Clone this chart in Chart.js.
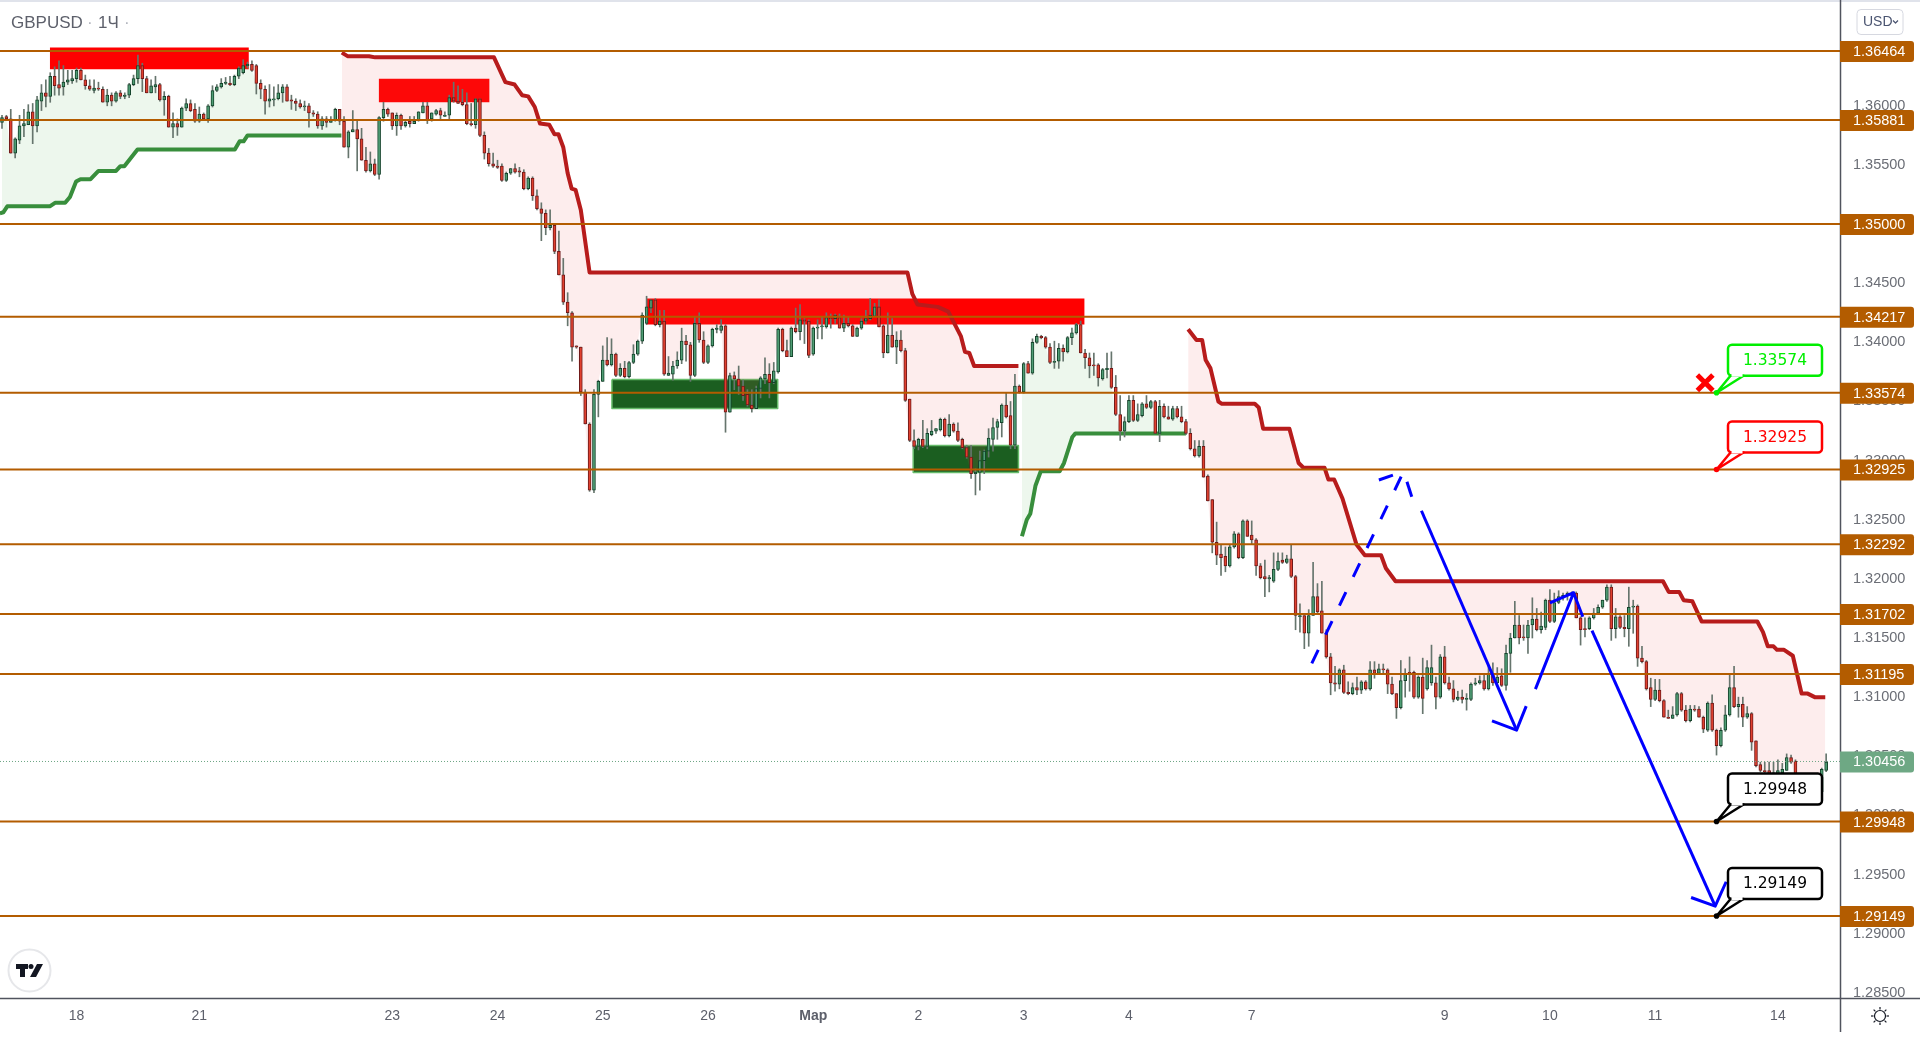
<!DOCTYPE html>
<html>
<head>
<meta charset="utf-8">
<title>GBPUSD</title>
<script src="https://cdn.jsdelivr.net/npm/chart.js@4"></script>
<style>
html, body { margin: 0; padding: 0; background: #fff; }
canvas { display: block; }
</style>
</head>
<body>
<canvas id="chart" width="1920" height="1044"></canvas>
<script>
// candle values in 1/10000 above 1.0000
const opens = [
3586,3591,3589,3560,3571,3583,3584,3595,3583,3604,
3611,3608,3625,3618,3616,3620,3621,3623,3630,3622,
3617,3613,3615,3614,3603,3609,3604,3611,3608,3609,
3618,3623,3634,3623,3611,3616,3618,3605,3608,3582,
3585,3582,3598,3602,3597,3587,3593,3589,3600,3613,
3616,3619,3619,3618,3625,3628,3634,3635,3634,3619,
3614,3604,3605,3606,3611,3616,3605,3604,3602,3599,
3600,3594,3593,3583,3589,3586,3588,3597,3587,3565,
3578,3580,3572,3554,3545,3551,3542,3590,3597,3594,
3583,3592,3583,3587,3585,3588,3594,3600,3589,3593,
3596,3591,3592,3607,3604,3603,3601,3585,3584,3606,
3575,3560,3551,3549,3549,3537,3543,3547,3545,3544,
3530,3539,3524,3513,3509,3497,3499,3477,3457,3434,
3425,3397,3396,3358,3331,3275,3356,3367,3385,3381,
3390,3372,3378,3371,3383,3390,3401,3416,3429,3436,
3415,3418,3372,3373,3380,3385,3401,3398,3372,3416,
3402,3383,3397,3411,3410,3414,3341,3372,3369,3363,
3356,3347,3344,3361,3369,3373,3366,3375,3411,3393,
3388,3412,3409,3419,3418,3390,3412,3413,3413,3421,
3420,3421,3412,3416,3414,3405,3412,3418,3420,3422,
3430,3414,3391,3406,3396,3402,3393,3352,3317,3312,
3318,3312,3322,3325,3326,3335,3321,3331,3325,3318,
3311,3303,3289,3290,3300,3308,3318,3328,3332,3347,
3338,3313,3363,3358,3382,3374,3400,3405,3404,3396,
3383,3384,3395,3392,3404,3408,3415,3391,3387,3381,
3381,3369,3377,3378,3362,3339,3325,3333,3351,3334,
3338,3348,3345,3350,3323,3346,3337,3335,3344,3337,
3333,3323,3310,3304,3312,3287,3267,3231,3221,3219,
3211,3227,3238,3218,3249,3237,3233,3211,3202,3200,
3198,3208,3216,3214,3217,3202,3168,3169,3154,3169,
3185,3173,3154,3134,3112,3111,3123,3104,3103,3108,
3106,3113,3107,3123,3120,3124,3123,3111,3103,3091,
3114,3121,3121,3100,3117,3107,3112,3112,3100,3134,
3112,3107,3098,3100,3098,3098,3111,3112,3114,3107,
3120,3112,3118,3110,3137,3150,3161,3151,3150,3161,
3166,3157,3159,3182,3164,3180,3184,3186,3186,3188,
3167,3158,3158,3167,3171,3176,3182,3193,3158,3168,
3159,3158,3176,3177,3133,3130,3108,3098,3106,3097,
3083,3082,3085,3103,3089,3080,3090,3090,3083,3072,
3095,3072,3059,3072,3085,3108,3092,3094,3083,3086,
3063,3043,3038,3038,3035,3035,3036,3038,3049,3046,
3030,3015,3013,3023,3021,3020,3038];
const closes = [
3590,3589,3560,3572,3583,3585,3595,3583,3605,3611,
3608,3625,3617,3615,3620,3622,3623,3630,3622,3617,
3614,3615,3614,3603,3609,3604,3611,3608,3609,3618,
3623,3634,3623,3611,3617,3618,3605,3608,3582,3585,
3582,3598,3602,3596,3587,3593,3589,3600,3613,3616,
3619,3620,3618,3625,3632,3634,3635,3630,3619,3614,
3604,3606,3606,3611,3616,3604,3604,3602,3599,3600,
3594,3593,3583,3589,3586,3587,3597,3587,3565,3578,
3580,3572,3554,3545,3551,3542,3590,3597,3593,3583,
3592,3583,3586,3585,3587,3595,3600,3588,3594,3596,
3592,3592,3607,3604,3602,3601,3585,3584,3606,3575,
3560,3551,3549,3548,3537,3543,3547,3544,3544,3530,
3539,3524,3513,3509,3497,3499,3477,3457,3434,3425,
3396,3396,3358,3331,3275,3356,3367,3385,3381,3390,
3372,3378,3371,3383,3390,3401,3423,3430,3436,3415,
3418,3373,3374,3380,3385,3401,3398,3372,3416,3402,
3383,3397,3411,3412,3414,3341,3372,3369,3363,3355,
3347,3344,3361,3370,3373,3366,3376,3411,3393,3388,
3412,3409,3419,3418,3389,3412,3413,3414,3421,3420,
3423,3412,3416,3414,3405,3412,3418,3420,3423,3430,
3413,3391,3406,3396,3402,3393,3351,3317,3312,3318,
3312,3323,3325,3327,3335,3321,3331,3325,3317,3311,
3303,3289,3290,3300,3308,3319,3328,3333,3347,3337,
3313,3363,3358,3382,3374,3400,3405,3404,3396,3383,
3384,3395,3392,3404,3408,3415,3391,3387,3380,3380,
3370,3377,3378,3362,3339,3325,3333,3351,3334,3339,
3348,3345,3350,3323,3346,3337,3335,3344,3337,3333,
3323,3310,3304,3312,3286,3266,3231,3220,3218,3211,
3227,3238,3218,3249,3236,3233,3211,3201,3200,3201,
3208,3215,3214,3217,3202,3169,3169,3154,3169,3185,
3172,3154,3134,3112,3111,3123,3104,3103,3108,3106,
3113,3107,3123,3120,3124,3123,3111,3103,3091,3114,
3120,3120,3100,3117,3099,3125,3125,3100,3134,3112,
3107,3098,3100,3098,3099,3111,3112,3114,3107,3120,
3112,3117,3110,3137,3150,3161,3150,3150,3161,3166,
3157,3160,3182,3164,3180,3185,3186,3188,3187,3167,
3157,3157,3167,3171,3176,3182,3193,3158,3168,3159,
3158,3176,3177,3133,3130,3107,3098,3106,3097,3083,
3082,3085,3103,3089,3080,3090,3089,3083,3073,3095,
3072,3059,3072,3085,3108,3092,3094,3083,3086,3062,
3042,3038,3037,3034,3036,3038,3039,3049,3045,3030,
3013,3013,3023,3017,3018,3039,3045];
const highs = [
3592,3592,3597,3573,3592,3597,3601,3602,3608,3618,
3622,3628,3633,3638,3634,3630,3630,3632,3632,3626,
3622,3622,3620,3616,3614,3611,3612,3613,3611,3619,
3626,3643,3636,3625,3622,3625,3619,3612,3609,3594,
3589,3599,3606,3605,3602,3599,3594,3601,3617,3618,
3623,3624,3625,3626,3633,3639,3637,3638,3635,3622,
3617,3618,3616,3618,3618,3618,3609,3606,3605,3604,
3602,3596,3595,3591,3591,3591,3598,3597,3591,3579,
3596,3587,3581,3565,3561,3555,3591,3603,3598,3594,
3594,3593,3588,3591,3591,3595,3603,3603,3594,3597,
3598,3595,3609,3620,3617,3614,3611,3602,3606,3606,
3578,3564,3560,3554,3551,3544,3547,3551,3548,3546,
3540,3540,3529,3518,3512,3512,3500,3494,3471,3442,
3426,3397,3396,3360,3332,3360,3368,3397,3404,3403,
3391,3382,3384,3384,3398,3402,3425,3439,3436,3437,
3427,3427,3388,3384,3392,3412,3406,3400,3422,3425,
3409,3398,3412,3415,3419,3415,3374,3375,3380,3368,
3360,3360,3363,3371,3387,3382,3383,3412,3412,3402,
3413,3429,3432,3420,3419,3413,3419,3422,3425,3424,
3424,3424,3423,3422,3415,3413,3420,3427,3437,3433,
3436,3415,3425,3420,3409,3410,3395,3352,3326,3319,
3334,3327,3334,3327,3336,3336,3339,3332,3332,3319,
3313,3313,3293,3308,3309,3327,3336,3335,3348,3357,
3350,3373,3364,3383,3384,3403,3407,3406,3405,3399,
3401,3399,3398,3405,3412,3416,3418,3394,3391,3391,
3382,3378,3391,3392,3372,3355,3337,3355,3355,3348,
3349,3355,3351,3351,3351,3348,3346,3346,3346,3346,
3335,3327,3317,3317,3317,3288,3267,3248,3229,3227,
3229,3240,3239,3250,3250,3249,3234,3213,3216,3203,
3222,3222,3222,3220,3229,3203,3179,3169,3174,3214,
3196,3198,3157,3137,3126,3124,3127,3113,3112,3117,
3114,3114,3130,3130,3128,3128,3124,3117,3103,3131,
3124,3134,3122,3118,3133,3131,3144,3117,3136,3143,
3117,3114,3105,3106,3103,3112,3116,3118,3119,3127,
3129,3125,3124,3144,3154,3181,3169,3161,3165,3184,
3175,3172,3183,3191,3188,3190,3188,3189,3189,3189,
3168,3167,3168,3175,3178,3182,3195,3195,3175,3169,
3169,3193,3182,3178,3143,3131,3116,3115,3115,3098,
3089,3092,3104,3104,3093,3093,3093,3092,3084,3096,
3102,3073,3074,3093,3120,3126,3100,3100,3092,3087,
3063,3045,3045,3045,3045,3047,3044,3052,3051,3047,
3030,3023,3024,3024,3023,3040,3052];
const lows = [
3581,3588,3560,3556,3568,3574,3584,3568,3578,3596,
3599,3603,3609,3609,3609,3618,3619,3620,3622,3614,
3613,3611,3613,3603,3600,3600,3603,3606,3606,3607,
3617,3619,3612,3611,3611,3611,3604,3592,3582,3573,
3575,3582,3596,3595,3586,3586,3589,3586,3599,3612,
3615,3618,3617,3617,3623,3627,3632,3629,3610,3606,
3593,3599,3600,3605,3603,3604,3597,3596,3598,3596,
3582,3591,3581,3580,3582,3586,3587,3584,3565,3556,
3578,3545,3554,3544,3544,3541,3538,3587,3591,3580,
3575,3580,3582,3582,3585,3587,3594,3585,3587,3592,
3589,3591,3589,3603,3602,3600,3584,3583,3581,3574,
3555,3549,3548,3547,3536,3536,3542,3543,3540,3529,
3529,3520,3512,3486,3491,3495,3475,3457,3432,3414,
3384,3395,3355,3331,3274,3273,3337,3367,3380,3380,
3371,3371,3370,3370,3382,3389,3399,3415,3425,3414,
3413,3372,3372,3368,3378,3382,3384,3367,3371,3400,
3382,3382,3396,3408,3408,3324,3341,3360,3356,3351,
3346,3341,3344,3353,3365,3353,3365,3374,3392,3388,
3388,3408,3402,3399,3387,3389,3403,3403,3412,3412,
3416,3412,3409,3413,3405,3405,3411,3416,3419,3422,
3413,3387,3391,3396,3382,3392,3350,3316,3310,3309,
3311,3310,3321,3323,3325,3320,3320,3324,3316,3310,
3302,3285,3271,3275,3289,3303,3308,3318,3320,3336,
3310,3310,3357,3357,3374,3373,3399,3403,3395,3382,
3378,3378,3384,3391,3398,3407,3391,3378,3370,3372,
3363,3368,3370,3361,3338,3317,3320,3332,3333,3333,
3337,3344,3344,3323,3316,3336,3335,3334,3336,3332,
3322,3309,3303,3303,3286,3266,3222,3212,3203,3206,
3210,3226,3217,3217,3236,3229,3203,3200,3185,3189,
3197,3207,3213,3213,3201,3157,3155,3141,3143,3169,
3171,3154,3133,3102,3105,3107,3103,3102,3102,3102,
3103,3106,3106,3116,3119,3119,3103,3102,3082,3090,
3100,3105,3099,3099,3086,3106,3110,3090,3099,3111,
3106,3096,3097,3095,3089,3097,3110,3111,3106,3106,
3110,3111,3109,3106,3121,3150,3145,3148,3137,3150,
3156,3154,3157,3163,3163,3179,3182,3182,3183,3167,
3144,3151,3157,3166,3170,3175,3181,3148,3150,3158,
3151,3143,3154,3126,3129,3106,3092,3097,3096,3083,
3082,3082,3084,3088,3079,3079,3088,3083,3070,3071,
3071,3051,3058,3071,3084,3091,3083,3075,3082,3055,
3041,3037,3036,3033,3034,3034,3035,3038,3044,3028,
3012,3011,3012,3016,3013,3019,3037];

// trailing stop segments, [bar, price] corners
const greenTrail1 = [[-0.5,3509],[0.3,3510],[1.2,3515],[10.9,3515],[12.1,3518],[14.4,3518],[15.5,3523],[16.9,3536],[17.9,3538],[20.2,3538],[22,3545],[26,3545],[27,3549],[27.9,3549],[30.9,3563],[53.1,3563],[54.2,3570],[55.1,3570],[56,3575],[77.4,3575]];
const redTrail1 = [[77.5,3645],[78.8,3642],[83.7,3642],[85.1,3641],[112.2,3641],[114.8,3620],[116.9,3618],[118.6,3609],[120,3608],[121.5,3599],[122.7,3585],[124.8,3584],[126,3576],[126.9,3576],[128,3565],[129,3543],[129.9,3530],[130.8,3529],[132,3512],[134,3459],[206.5,3459],[207.6,3441],[208.8,3432],[213.4,3430],[215.8,3426],[218.7,3405],[219.6,3392],[220.6,3391],[221.7,3380],[231.8,3380]];
const greenTrail2 = [[232.6,3236],[233.7,3250],[234.5,3255],[235.7,3279],[236.9,3291],[241.2,3291],[242.2,3298],[244.1,3320],[244.8,3323],[270,3323]];
const redTrail2 = [[270.5,3411],[272.4,3402],[273.7,3402],[274.5,3385],[275.6,3378],[277.4,3350],[278.2,3348],[285.7,3348],[286.6,3345],[287.6,3327],[293.6,3327],[295.7,3298],[296.8,3294],[301.6,3294],[302.5,3284],[303.8,3284],[305.7,3268],[308.9,3229],[310.8,3220],[314.5,3220],[315.6,3209],[317.8,3198],[378.8,3198],[380.1,3189],[382.5,3189],[383.5,3182],[385.5,3181],[387.6,3164],[400.3,3164],[401.6,3155],[402.7,3143],[404,3143],[404.8,3140],[406.4,3140],[408.4,3135],[410.4,3103],[411.8,3103],[413.4,3100],[415.8,3100]];

// zones: from bar, to bar, top, bottom
const redZones = [[10.9,56.3,3649.4,3631],[85.9,111.2,3622.8,3603],[146.9,246.9,3437,3415]];
const greenZones = [[139.1,176.9,3368.5,3344],[207.8,231.8,3312.7,3290]];

const levelPrices = [1.36464,1.35881,1.35,1.34217,1.33574,1.32925,1.32292,1.31702,1.31195,1.29948,1.29149];
const lastPrice = 1.30456;

// hand drawn arrows
const bluePathDashed = [[298.7,3128.5],[319.7,3291.2]];
const bluePathsSolid = [
  [[314,3283.6],[317.2,3287.8]],
  [[320.4,3282.2],[321.5,3269.5]],
  [[323.7,3257.6],[345.4,3072.1]],
  [[339.8,3080],[345.4,3072.1],[347.6,3092.4]],
  [[349.7,3106.8],[358.4,3188.3],[360.5,3168]],
  [[353,3179.8],[358.4,3188.3]],
  [[362.6,3156.2],[390.7,2923.3]],
  [[385.2,2930.6],[390.7,2923.3],[393.2,2943.9]]
];
const crossMark = [388.4,3365.9];

const calloutPrices = [1.33574,1.32925,1.29948,1.29149];
const calloutColors = ['#00ee00','#ff0000','#000000','#000000'];
const calloutBar = 391;

const yTicks = [1.285,1.29,1.295,1.3,1.305,1.31,1.315,1.32,1.325,1.33,1.335,1.34,1.345,1.35,1.355,1.36];
const xTickBars = [17,45,89,113,137,161,185,209,233,257,285,329,353,377,405];
const xTickLabels = ['18','21','23','24','25','26','Мар','2','3','4','7','9','10','11','14'];

const price = v => 1 + v / 10000;
const points = list => list.map(p => ({ x: p[0], y: price(p[1]) }));

const isUp = closes.map((c, i) => c >= opens[i]);
const xMin = -0.456, xMax = 419.16;

function lineSet(data, color, width, order, extra) {
    return Object.assign({
        type: 'line', data: data, borderColor: color, borderWidth: width,
        pointRadius: 0, order: order, fill: false, tension: 0,
        borderJoinStyle: 'round', borderCapStyle: 'butt'
    }, extra || {});
}

// dataset 0 is the invisible close line the trail fills go back to
const datasets = [
    lineSet(closes.map((c, i) => ({ x: i, y: price(c) })), 'rgba(0,0,0,0)', 0, 40)
];

redZones.forEach(z => {
    datasets.push(lineSet([{ x: z[0], y: price(z[2]) }, { x: z[1], y: price(z[2]) }], '#ff0000', 0, 30,
        { fill: { value: price(z[3]) }, backgroundColor: '#ff0000' }));
});
greenZones.forEach(z => {
    datasets.push(lineSet([{ x: z[0], y: price(z[2]) }, { x: z[1], y: price(z[2]) }], '#1b5e20', 0, 30,
        { fill: { value: price(z[3]) }, backgroundColor: '#1b5e20' }));
    datasets.push(lineSet(points([[z[0],z[2]],[z[1],z[2]],[z[1],z[3]],[z[0],z[3]],[z[0],z[2]]]), '#66bb6a', 1.5, 29));
});

[greenTrail1, greenTrail2].forEach(t => {
    datasets.push(lineSet(points(t), '#388e3c', 4, 20,
        { fill: { target: 0 }, backgroundColor: 'rgba(76,175,80,0.1)' }));
});
[redTrail1, redTrail2].forEach(t => {
    datasets.push(lineSet(points(t), '#b71c1c', 4, 20,
        { fill: { target: 0 }, backgroundColor: 'rgba(239,83,80,0.1)' }));
});

datasets.push({
    type: 'bar', order: 10, grouped: false, barThickness: 1, borderWidth: 0,
    backgroundColor: '#66756d',
    data: highs.map((h, i) => ({ x: i, y: [price(lows[i]), price(h)] }))
});
datasets.push({
    type: 'bar', order: 9, grouped: false, barThickness: 3, borderWidth: 1, borderSkipped: false,
    backgroundColor: isUp.map(u => u ? '#4f9d74' : '#e0402f'),
    borderColor: isUp.map(u => u ? '#14432b' : '#6e1a1a'),
    data: opens.map((o, i) => ({ x: i, y: [price(o), price(closes[i])] }))
});

levelPrices.forEach(p => {
    datasets.push(lineSet([{ x: xMin, y: p }, { x: xMax, y: p }], '#b35c00', 2, 5));
});
datasets.push(lineSet([{ x: xMin, y: lastPrice }, { x: xMax, y: lastPrice }], '#6ba583', 1, 6, { borderDash: [1, 2] }));

datasets.push(lineSet(points(bluePathDashed), '#0000ff', 3, 3, { borderDash: [15, 17] }));
bluePathsSolid.forEach(p => datasets.push(lineSet(points(p), '#0000ff', 3, 3)));

datasets.push(lineSet([{ x: crossMark[0], y: price(crossMark[1]) }], '#ff0000', 5, 2, {
    showLine: false, pointStyle: 'crossRot', pointRadius: 11, pointBorderColor: '#ff0000', pointBorderWidth: 5
}));

function roundBox(ctx, x, y, w, h, r) {
    ctx.beginPath();
    ctx.roundRect(x, y, w, h, r);
}

// everything around the plot that has no scale of its own
const chromePlugin = {
    id: 'chrome',
    afterDraw(chart) {
        const ctx = chart.ctx, xs = chart.scales.x, ys = chart.scales.y;
        ctx.save();

        ctx.fillStyle = '#e0e3eb';
        ctx.fillRect(0, 0, 1920, 2);

        ctx.strokeStyle = '#50535e';
        ctx.lineWidth = 1.5;
        ctx.beginPath();
        ctx.moveTo(1840.5, 0); ctx.lineTo(1840.5, 1032);
        ctx.moveTo(0, 998.5); ctx.lineTo(1920, 998.5);
        ctx.stroke();

        // price tags on the axis
        ctx.font = '500 14.5px "Liberation Sans"';
        ctx.textBaseline = 'middle';
        ctx.textAlign = 'left';
        const tag = (p, color) => {
            const y = ys.getPixelForValue(p);
            ctx.fillStyle = color;
            roundBox(ctx, 1840, y - 10, 74, 21, [0, 3, 3, 0]);
            ctx.fill();
            ctx.fillStyle = '#ffffff';
            ctx.fillText(p.toFixed(5), 1853, y + 1);
        };
        levelPrices.forEach(p => tag(p, '#b35c00'));
        tag(lastPrice, '#6ea884');

        // callouts
        calloutPrices.forEach((p, i) => {
            const y = ys.getPixelForValue(p), ax = xs.getPixelForValue(calloutBar);
            const color = calloutColors[i];
            ctx.strokeStyle = color;
            ctx.lineWidth = 2.5;
            ctx.lineJoin = 'round';
            ctx.fillStyle = '#ffffff';
            roundBox(ctx, 1728, y - 48, 94, 31, 4);
            ctx.fill();
            ctx.stroke();
            ctx.beginPath();
            ctx.moveTo(ax, y);
            ctx.lineTo(ax + 14, y - 17);
            ctx.lineTo(ax + 27, y - 17);
            ctx.closePath();
            ctx.fill();
            ctx.stroke();
            ctx.fillStyle = '#ffffff';
            ctx.fillRect(ax + 15, y - 19, 11, 3);
            ctx.fillStyle = color;
            ctx.beginPath();
            ctx.arc(ax, y, 2.8, 0, Math.PI * 2);
            ctx.fill();
            ctx.font = '15.5px "DejaVu Sans"';
            ctx.textAlign = 'center';
            ctx.fillStyle = color;
            ctx.fillText(p.toFixed(5), 1775, y - 32);
        });

        // title
        ctx.textAlign = 'left';
        ctx.textBaseline = 'alphabetic';
        ctx.font = '17px "Liberation Sans"';
        ctx.fillStyle = '#5d606b';
        ctx.fillText('GBPUSD', 11, 28);
        ctx.fillText('1Ч', 98, 28);
        ctx.fillStyle = '#b2b5be';
        ctx.fillText('·', 87, 28);
        ctx.fillText('·', 124, 28);

        // currency button
        ctx.strokeStyle = '#d6d8e0';
        ctx.lineWidth = 1;
        roundBox(ctx, 1857, 9.5, 46, 25, 4);
        ctx.stroke();
        ctx.font = '14px "Liberation Sans"';
        ctx.fillStyle = '#4a5470';
        ctx.textBaseline = 'middle';
        ctx.fillText('USD', 1863, 22);
        ctx.strokeStyle = '#4a5470';
        ctx.lineWidth = 1.2;
        ctx.beginPath();
        ctx.moveTo(1893, 20.5); ctx.lineTo(1895.5, 23); ctx.lineTo(1898, 20.5);
        ctx.stroke();

        // logo
        ctx.fillStyle = '#ffffff';
        ctx.strokeStyle = '#e6e7ea';
        ctx.lineWidth = 2;
        ctx.beginPath();
        ctx.arc(29.5, 970.5, 21, 0, Math.PI * 2);
        ctx.fill();
        ctx.stroke();
        ctx.fillStyle = '#131722';
        ctx.fillRect(16, 964, 12, 5);
        ctx.fillRect(20, 964, 5, 13);
        ctx.beginPath();
        ctx.arc(31, 966.5, 2.5, 0, Math.PI * 2);
        ctx.fill();
        ctx.beginPath();
        ctx.moveTo(37, 964); ctx.lineTo(43, 964); ctx.lineTo(36, 977); ctx.lineTo(30, 977);
        ctx.closePath();
        ctx.fill();

        // sun icon
        ctx.strokeStyle = '#131722';
        ctx.lineWidth = 1.2;
        ctx.beginPath();
        ctx.arc(1880, 1016, 5.5, 0, Math.PI * 2);
        ctx.stroke();
        for (let a = 0; a < 8; a++) {
            const t = a * Math.PI / 4;
            ctx.beginPath();
            ctx.moveTo(1880 + Math.cos(t) * 6.5, 1016 + Math.sin(t) * 6.5);
            ctx.lineTo(1880 + Math.cos(t) * 9, 1016 + Math.sin(t) * 9);
            ctx.stroke();
        }
        ctx.restore();
    }
};

// the tick labels must not push the plot area in from the canvas edges
function noScalePadding(s) {
    s.paddingTop = 0;
    s.paddingBottom = 0;
    s.paddingLeft = 0;
    s.paddingRight = 0;
}

new Chart(document.getElementById('chart').getContext('2d'), {
    type: 'bar',
    data: { datasets: datasets },
    plugins: [chromePlugin],
    options: {
        responsive: false,
        animation: false,
        // autoPadding would leave room for the big cross marker
        layout: { autoPadding: false, padding: { top: 2 } },
        plugins: { legend: { display: false }, tooltip: { enabled: false } },
        scales: {
            x: {
                type: 'linear', min: xMin, max: xMax, offset: false,
                grid: { display: false, drawTicks: false },
                border: { display: false },
                afterBuildTicks: s => { s.ticks = xTickBars.map(v => ({ value: v })); },
                afterFit: s => { s.height = 46; noScalePadding(s); },
                ticks: {
                    autoSkip: false, maxRotation: 0, padding: 10, color: '#5d606b',
                    font: c => ({ family: 'Liberation Sans', size: 14, weight: c.index === 6 ? 'bold' : 'normal' }),
                    callback: v => xTickLabels[xTickBars.indexOf(v)]
                }
            },
            y: {
                position: 'right', min: 1.28456, max: 1.36878,
                grid: { display: false, drawTicks: false },
                border: { display: false },
                afterBuildTicks: s => { s.ticks = yTicks.map(v => ({ value: v })); },
                afterFit: s => { s.width = 80; noScalePadding(s); },
                ticks: {
                    autoSkip: false, padding: 13, color: '#6b6e76',
                    font: { family: 'Liberation Sans', size: 14.5 },
                    callback: v => v.toFixed(5)
                }
            }
        }
    }
});
</script>
</body>
</html>
